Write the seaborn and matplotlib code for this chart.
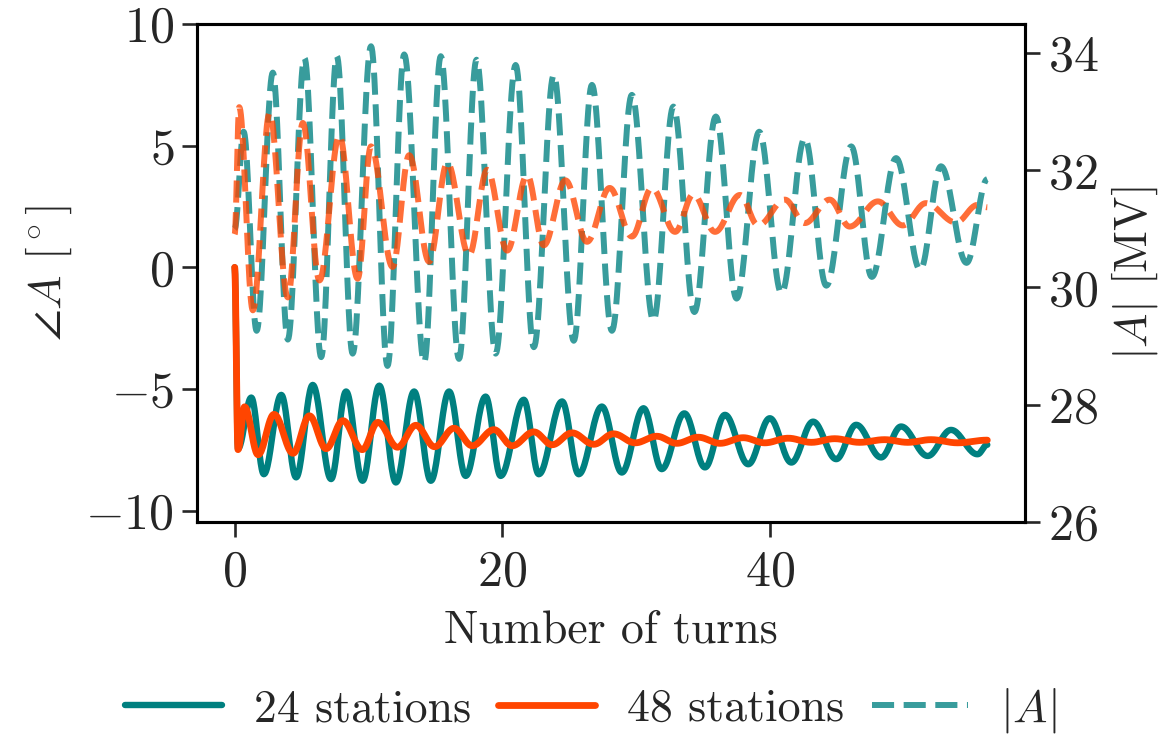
import numpy as np
import matplotlib
matplotlib.use("Agg")
import matplotlib.pyplot as plt
import seaborn as sns
from matplotlib.lines import Line2D

# ---- data (turn, value) at the extrema of each curve ----
# 24 stations, phase of A [deg]
t24 = [0, 0.25, 1.24, 2.18, 3.48, 4.59, 5.83, 7.20, 8.32, 9.55, 10.80, 12.04, 13.40, 14.65,
       16.01, 17.25, 18.74, 19.86, 21.59, 22.71, 24.45, 25.69, 27.42, 28.91, 30.53, 31.89,
       33.58, 35.12, 36.61, 38.35, 39.96, 41.57, 43.19, 44.92, 46.41, 48.27, 49.76, 51.75,
       53.49, 55.47, 56.2]
p24 = [0, -7.45, -5.35, -8.50, -5.24, -8.63, -4.83, -8.70, -5.10, -8.77, -4.86, -8.84, -5.10,
       -8.77, -5.10, -8.57, -5.31, -8.57, -5.44, -8.50, -5.51, -8.50, -5.72, -8.43, -5.79,
       -8.29, -6.00, -8.22, -6.06, -8.09, -6.20, -8.02, -6.34, -7.88, -6.47, -7.81, -6.54,
       -7.75, -6.68, -7.68, -7.29]

# 48 stations, phase of A [deg]
t48 = [0, 0.25, 0.74, 1.75, 2.94, 4.36, 5.58, 6.83, 8.08, 9.53, 10.69, 12.16, 13.53, 14.93,
       16.38, 17.74, 19.36, 20.72, 22.34, 23.70, 25.19, 26.81, 28.29, 29.91, 31.52, 33.01,
       34.62, 36.24, 37.97, 39.59, 41.33, 43.06, 44.80, 46.66, 48.53, 50.26, 52.00, 53.98,
       56.2]
p48 = [0, -7.49, -5.73, -7.70, -6.04, -7.64, -6.10, -7.45, -6.30, -7.49, -6.37, -7.39, -6.49,
       -7.37, -6.61, -7.33, -6.67, -7.33, -6.76, -7.29, -6.80, -7.27, -6.84, -7.21, -6.94,
       -7.23, -6.98, -7.23, -7.00, -7.21, -7.02, -7.19, -7.04, -7.19, -7.08, -7.19, -7.08,
       -7.21, -7.10]

# 24 stations, |A| [MV]
ta24 = [0, 0.67, 1.64, 2.85, 3.97, 5.21, 6.46, 7.63, 8.81, 10.18, 11.41, 12.66, 14.15, 15.39,
        16.75, 18.06, 19.49, 20.98, 22.34, 23.83, 25.32, 26.68, 28.17, 29.66, 31.27, 32.76,
        34.33, 35.93, 37.48, 39.17, 40.83, 42.57, 44.18, 46.04, 47.58, 49.39, 51.19, 52.74,
        54.65, 56.2]
a24 = [31.0, 32.66, 29.26, 33.67, 29.11, 33.92, 28.81, 33.95, 28.87, 34.12, 28.66, 33.98,
       28.72, 33.95, 28.78, 33.89, 28.87, 33.80, 28.98, 33.63, 29.09, 33.46, 29.26, 33.29,
       29.43, 33.09, 29.58, 32.92, 29.81, 32.66, 29.90, 32.55, 30.03, 32.41, 30.18, 32.21,
       30.30, 32.07, 30.42, 31.85]

# 48 stations, |A| [MV]
ta48 = [0, 0.34, 1.36, 2.61, 3.97, 5.09, 6.33, 7.82, 9.18, 10.18, 11.79, 13.03, 14.52, 15.88,
        17.50, 18.86, 20.35, 21.84, 23.08, 24.70, 26.31, 28.00, 29.66, 31.15, 32.89, 34.25,
        35.87, 37.73, 39.09, 41.08, 42.57, 44.43, 45.92, 48.03, 49.89, 51.62, 53.86, 55.47,
        56.2]
a48 = [30.91, 33.08, 29.61, 32.98, 29.83, 32.81, 30.12, 32.60, 30.15, 32.41, 30.35, 32.26,
       30.44, 32.13, 30.55, 32.01, 30.63, 31.92, 30.72, 31.83, 30.78, 31.70, 30.87, 31.70,
       30.95, 31.59, 30.95, 31.58, 31.06, 31.50, 31.10, 31.50, 31.04, 31.47, 31.06, 31.44,
       31.11, 31.41, 31.37]

labels = ["24 stations", "48 stations", r"$|A|$"]
xticks = [0, 20, 40]
yticks_left = [-10, -5, 0, 5, 10]
yticks_right = [26, 28, 30, 32, 34]


def smooth(tx, vy, n=24):
    """Join consecutive extrema with half-cosine arcs (sinusoid-shaped segments)."""
    xs, ys = [], []
    s = np.linspace(0, 1, n, endpoint=False)
    for i in range(len(tx) - 1):
        w = (1 - np.cos(np.pi * s)) / 2
        xs.append(tx[i] + (tx[i + 1] - tx[i]) * s)
        ys.append(vy[i] + (vy[i + 1] - vy[i]) * w)
    xs.append([tx[-1]])
    ys.append([vy[-1]])
    return np.concatenate(xs), np.concatenate(ys)


sns.set_style("ticks")
plt.rcParams["font.family"] = ["cmr10", "DejaVu Serif"]
plt.rcParams["mathtext.fontset"] = "cm"
plt.rcParams["axes.formatter.use_mathtext"] = True
plt.rcParams["axes.unicode_minus"] = True

FS = 33
TFS = 36
fig = plt.figure(figsize=(11.7, 7.36), dpi=100)
ax = fig.add_axes([0.1684, 0.2912, 0.876 - 0.1684, 0.9674 - 0.2912])
ax2 = ax.twinx()

TEAL = "#008080"
ORANGE = "#FF4500"

x, y = smooth(t24, p24)
sns.lineplot(x=x, y=y, ax=ax, color=TEAL, lw=4.6, sort=False, estimator=None)
x, y = smooth(t48, p48)
sns.lineplot(x=x, y=y, ax=ax, color=ORANGE, lw=4.9, sort=False, estimator=None)

x, y = smooth(ta24, a24)
sns.lineplot(x=x, y=y, ax=ax2, color=TEAL, lw=4.3, ls="--", alpha=0.78, sort=False, estimator=None)
x, y = smooth(ta48, a48)
sns.lineplot(x=x, y=y, ax=ax2, color=ORANGE, lw=4.3, ls="--", alpha=0.78, sort=False, estimator=None)

ax.set_ylim(-10.45, 10.0)
ax2.set_ylim(26.0, 34.5)
ax.set_xticks(xticks)
ax.set_yticks(yticks_left)
ax2.set_yticks(yticks_right)

for a in (ax, ax2):
    a.tick_params(labelsize=TFS, length=10.5, width=1.9, direction="out", pad=6)
    for sp in a.spines.values():
        sp.set_linewidth(2.2)
        sp.set_visible(True)
        sp.set_color("black")
ax.tick_params(axis="x", pad=10)

ax.set_xlabel("Number of turns", fontsize=FS, labelpad=10)
ax.set_ylabel(r"$\angle A$ [$^\circ$]", fontsize=FS, labelpad=8)
ax2.set_ylabel(r"$|A|$ [MV]", fontsize=FS, labelpad=8)

handles = [Line2D([], [], color=TEAL, lw=4.6),
           Line2D([], [], color=ORANGE, lw=4.9),
           Line2D([], [], color=TEAL, lw=4.3, ls="--", alpha=0.78)]
fig.legend(handles, labels, loc="center", bbox_to_anchor=(0.505, 0.035), ncol=3,
           frameon=False, fontsize=FS, handlelength=2.1, handletextpad=0.7,
           columnspacing=0.6, borderaxespad=0)

fig.savefig("out.png", dpi=100)
